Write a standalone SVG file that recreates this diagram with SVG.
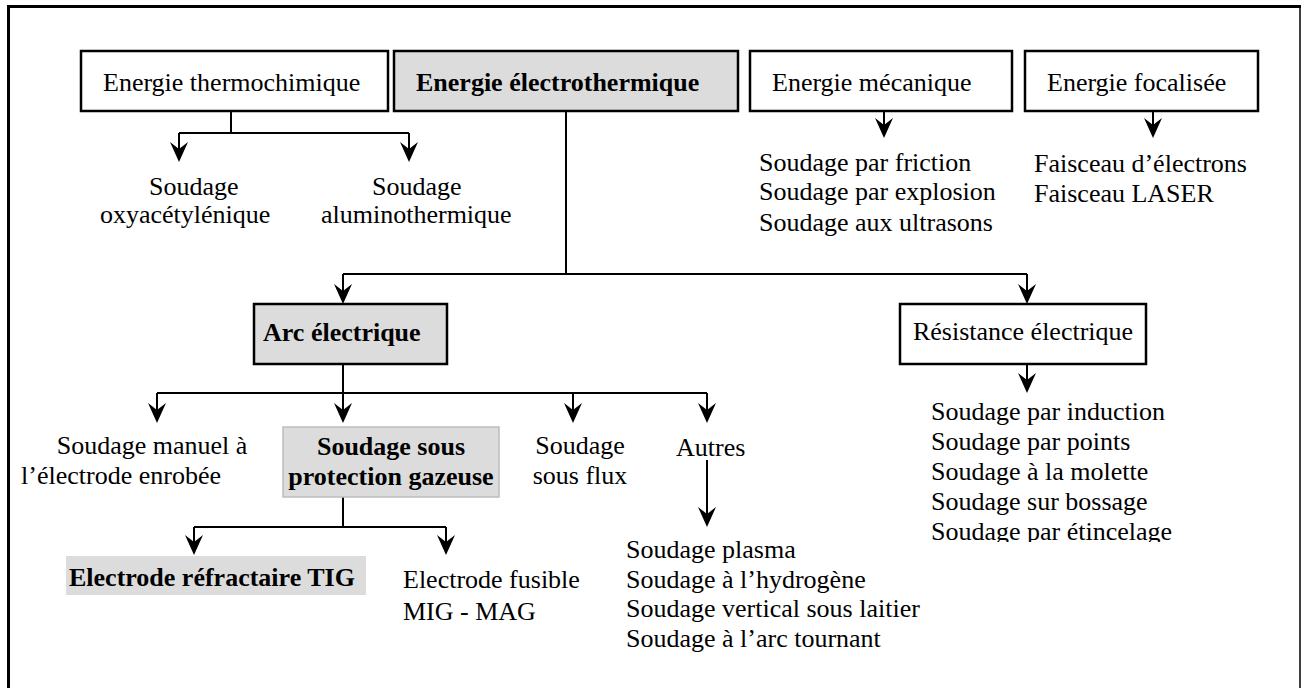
<svg xmlns="http://www.w3.org/2000/svg" width="1308" height="688" viewBox="0 0 1308 688">
<style>
text{font-family:"Liberation Serif","Times New Roman",serif;font-size:26px;fill:#000}
.b{font-weight:bold}
.box{fill:#fff;stroke:#000;stroke-width:2.5}
.gbox{fill:#dcdcdc;stroke:#000;stroke-width:2.5}
.c{fill:none;stroke:#000;stroke-width:2}
.a{fill:none;stroke:#000;stroke-width:2;marker-end:url(#ah)}
.m{text-anchor:middle}
</style>
<defs>
<marker id="ah" viewBox="0 0 20 20" markerWidth="20" markerHeight="20" refX="12" refY="10" orient="auto" markerUnits="userSpaceOnUse">
<path d="M0,1 L20,10 L0,19 L7,10 Z" fill="#000"/>
</marker>
<clipPath id="clipR"><rect x="900" y="395" width="380" height="147"/></clipPath>
</defs>
<rect width="1308" height="688" fill="#fff"/>
<g id="frame" stroke="#000" fill="none">
<line x1="7" y1="6.5" x2="1301" y2="6.5" stroke-width="3"/>
<line x1="8.5" y1="5" x2="8.5" y2="688" stroke-width="3"/>
<line x1="1300" y1="5" x2="1300" y2="688" stroke-width="1.5"/>
</g>
<g id="connectors">
<path class="c" d="M231,111 V133 M179,133 H409"/>
<path class="a" d="M179,133 V154"/>
<path class="a" d="M409,133 V154"/>
<path class="c" d="M566,111 V274 M343,274 H1027" stroke-width="1.6"/>
<path class="a" d="M343,274 V296"/>
<path class="a" d="M1027,274 V296"/>
<path class="a" d="M884,111 V130"/>
<path class="a" d="M1153,111 V130"/>
<path class="c" d="M343,364 V393 M157,393 H707"/>
<path class="a" d="M157,393 V415"/>
<path class="a" d="M343,393 V415"/>
<path class="a" d="M573,393 V415"/>
<path class="a" d="M707,393 V415"/>
<path class="a" d="M1027,364 V385"/>
<path class="c" d="M343,497 V527 M194,527 H446"/>
<path class="a" d="M194,527 V547"/>
<path class="a" d="M446,527 V547"/>
<path class="a" d="M707,460 V519"/>
</g>
<g id="n-thermochimique">
<rect class="box" x="81" y="51" width="307" height="60"/>
<text x="103" y="91">Energie thermochimique</text>
</g>
<g id="n-electrothermique">
<rect class="gbox" x="394" y="51" width="344" height="60"/>
<text class="b" x="416" y="91">Energie électrothermique</text>
</g>
<g id="n-mecanique">
<rect class="box" x="750" y="51" width="262" height="60"/>
<text x="772" y="91">Energie mécanique</text>
</g>
<g id="n-focalisee">
<rect class="box" x="1025" y="51" width="233" height="60"/>
<text x="1047" y="91">Energie focalisée</text>
</g>
<g id="n-oxy">
<text x="149" y="195">Soudage</text>
<text x="100" y="223">oxyacétylénique</text>
</g>
<g id="n-alumino">
<text x="372" y="195">Soudage</text>
<text x="321" y="223">aluminothermique</text>
</g>
<g id="n-meca-list">
<text x="759" y="171">Soudage par friction</text>
<text x="759" y="200">Soudage par explosion</text>
<text x="759" y="231">Soudage aux ultrasons</text>
</g>
<g id="n-foc-list">
<text x="1034" y="172">Faisceau d’électrons</text>
<text x="1034" y="202">Faisceau LASER</text>
</g>
<g id="n-arc">
<rect class="gbox" x="254" y="304" width="193" height="60" stroke-width="2"/>
<text class="b" x="263" y="341">Arc électrique</text>
</g>
<g id="n-resistance">
<rect class="box" x="900" y="304" width="246" height="60" stroke-width="2"/>
<text class="m" x="1023" y="340">Résistance électrique</text>
</g>
<g id="n-res-list" clip-path="url(#clipR)">
<text x="931" y="420">Soudage par induction</text>
<text x="931" y="450">Soudage par points</text>
<text x="931" y="480">Soudage à la molette</text>
<text x="931" y="510">Soudage sur bossage</text>
<text x="931" y="540">Soudage par étincelage</text>
</g>
<g id="n-manuel">
<text class="m" x="152" y="454">Soudage manuel à</text>
<text class="m" x="121" y="484">l’électrode enrobée</text>
</g>
<g id="n-gaz">
<rect x="283" y="427" width="216" height="70" fill="#dcdcdc" stroke="#bdbdbd" stroke-width="1.5"/>
<text class="b m" x="391" y="455">Soudage sous</text>
<text class="b m" x="391" y="485">protection gazeuse</text>
</g>
<g id="n-flux">
<text class="m" x="580" y="454">Soudage</text>
<text class="m" x="580" y="484">sous flux</text>
</g>
<g id="n-autres">
<text x="676" y="456">Autres</text>
</g>
<g id="n-tig">
<rect x="66" y="556" width="300" height="39" fill="#dcdcdc"/>
<text class="b" x="69" y="586">Electrode réfractaire TIG</text>
</g>
<g id="n-mig">
<text x="403" y="588">Electrode fusible</text>
<text x="403" y="620">MIG - MAG</text>
</g>
<g id="n-autres-list">
<text x="626" y="558">Soudage plasma</text>
<text x="626" y="588">Soudage à l’hydrogène</text>
<text x="626" y="617">Soudage vertical sous laitier</text>
<text x="626" y="647">Soudage à l’arc tournant</text>
</g>
</svg>
